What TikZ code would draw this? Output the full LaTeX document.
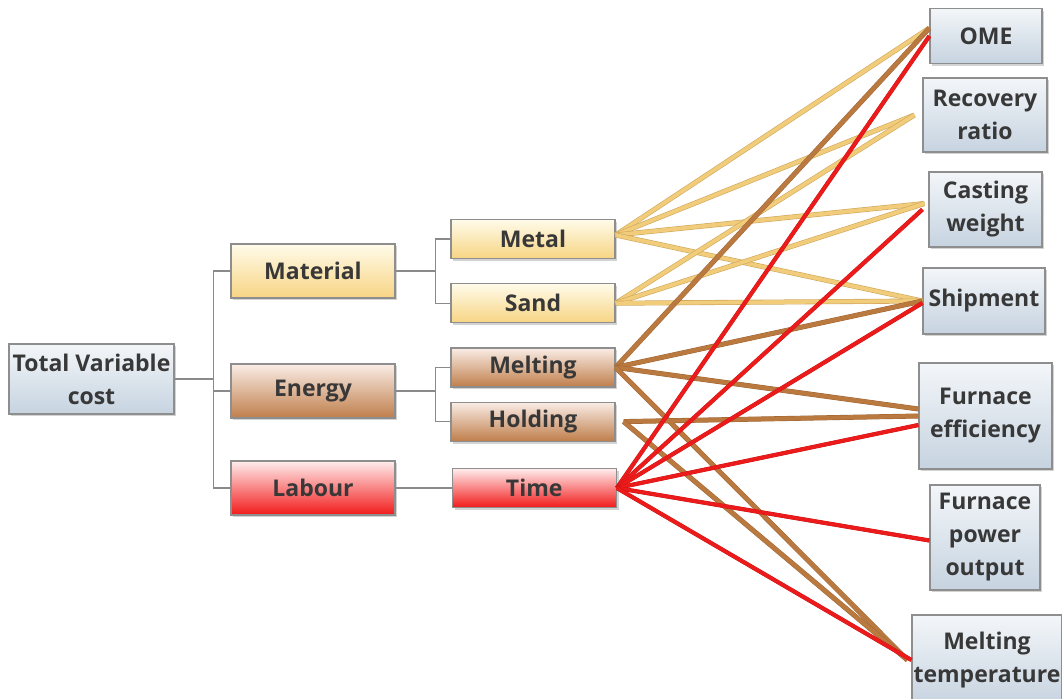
\documentclass[tikz,border=0pt]{standalone}
\usepackage{fontspec}
\setmainfont{Open Sans}
\usepackage{tikz}
\usetikzlibrary{positioning,shadows}

\definecolor{boxline}{HTML}{8E8E8E}
\definecolor{boxtext}{HTML}{383838}
\definecolor{treeline}{HTML}{8A8A8A}
\definecolor{steeltop}{HTML}{F3F6F9}
\definecolor{steelbot}{HTML}{C6D3E0}
\definecolor{yeltop}{HTML}{FFFBEA}
\definecolor{yelbot}{HTML}{F7D483}
\definecolor{brntop}{HTML}{FAEDE6}
\definecolor{brnbot}{HTML}{BF7E4B}
\definecolor{redtop}{HTML}{FFEDED}
\definecolor{redbot}{HTML}{F21A1A}
\definecolor{matlink}{HTML}{F1CC7A}
\definecolor{matedge}{HTML}{CFA85E}
\definecolor{enlink}{HTML}{B9793F}
\definecolor{enedge}{HTML}{9C6233}
\definecolor{lablink}{HTML}{EC1B1B}
\definecolor{labedge}{HTML}{C41212}

\tikzset{
	cost tree/.style={x=0.5pt, y=-0.5pt, node distance=12pt and 28pt},
	bx/.style={draw=boxline, line width=0.6pt, align=center, text=boxtext,
		inner sep=0pt, font=\fontsize{11.5}{16.5}\selectfont\bfseries,
		drop shadow={shadow xshift=1.2pt, shadow yshift=-1.2pt, opacity=0.35}},
	bx steel/.style={bx, top color=steeltop, bottom color=steelbot},
	bx yellow/.style={bx, top color=yeltop, bottom color=yelbot},
	bx brown/.style={bx, top color=brntop, bottom color=brnbot},
	bx red/.style={bx, top color=redtop, bottom color=redbot},
	main/.style={minimum width=82pt, minimum height=27pt},
	sub/.style={minimum width=82pt, minimum height=19.5pt},
	tree/.style={draw=treeline, line width=0.6pt},
	ylink/.style={draw=matlink, line width=1.9pt, preaction={draw=matedge, line width=2.5pt}},
	blink/.style={draw=enlink, line width=2.1pt, preaction={draw=enedge, line width=2.5pt}},
	rlink/.style={draw=lablink, line width=1.8pt, preaction={draw=labedge, line width=2.1pt}}
}

\begin{document}
\begin{tikzpicture}[cost tree]
  \useasboundingbox (0,0) rectangle (1062,698);

  % cost breakdown
  \node[bx steel, minimum width=82.5pt, minimum height=35pt] (tvc) at (91.5,379) {Total Variable\\cost};
  \node[bx yellow, main] (material) at (313,271) {Material};
  \node[bx brown, main] (energy) at (313,391) {Energy};
  \node[bx red, main] (labour) at (313,488) {Labour};
  \node[bx yellow, sub] (metal) at (533,239) {Metal};
  \node[bx yellow, sub, below=of metal] (sand) {Sand};
  \node[bx brown, sub, below=of sand] (melting) {Melting};
  \node[bx brown, sub, below=7pt of melting] (holding) {Holding};
  \node[bx red, sub, right=of labour] (time) {Time};

  \draw[tree] (tvc.east) -- ++(39,0) coordinate (fork);
  \draw[tree] (material.west) -| (fork) |- (labour.west);
  \draw[tree] (fork) |- (energy.west);
  \draw[tree] (material.east) -- ++(40,0) coordinate (matfork);
  \draw[tree] (metal.west) -| (matfork) |- (sand.west);
  \draw[tree] (energy.east) -- ++(40,0) coordinate (enfork);
  \draw[tree] (melting.west) -| (enfork) |- (holding.west);
  \draw[tree] (labour) -- (time);

  % drivers
  \node[bx steel, minimum width=56pt, minimum height=27.5pt] (ome) at (986,36) {OME};
  \node[bx steel, minimum width=62pt, minimum height=37pt] (recovery) at (985,115) {Recovery\\ratio};
  \node[bx steel, minimum width=56.5pt, minimum height=37.5pt] (casting) at (985.5,209.5) {Casting\\weight};
  \node[bx steel, minimum width=61pt, minimum height=33pt] (shipment) at (984,301) {Shipment};
  \node[bx steel, minimum width=66.5pt, minimum height=53pt] (eff) at (985.5,416) {Furnace\\efficiency};
  \node[bx steel, minimum width=55pt, minimum height=52.5pt] (power) at (985,537.5) {Furnace\\power\\output};
  \node[bx steel, minimum width=75pt, minimum height=45pt] (melttemp) at (987,660) {Melting\\temperature};

  % material links
  \draw[ylink] ([yshift=2pt]metal.east) -- (ome.172);
  \draw[ylink] ([yshift=2pt]metal.east) -- ([xshift=-4pt]recovery.west);
  \draw[ylink] ([yshift=2pt]metal.east) -- ([xshift=-2pt,yshift=3pt]casting.west);
  \draw[ylink] ([yshift=2pt]metal.east) -- (shipment.west);
  \draw[ylink] (sand.east) -- ([xshift=-4pt]recovery.west);
  \draw[ylink] (sand.east) -- ([xshift=-2pt,yshift=3pt]casting.west);
  \draw[ylink] (sand.east) -- (shipment.west);

  % energy links
  \draw[blink] (melting.east) -- (ome.172);
  \draw[blink] (melting.east) -- (shipment.west);
  \draw[blink] (melting.east) -- ([yshift=3.5pt]eff.west);
  \draw[blink] (melting.east) -- ([xshift=-2pt]melttemp.west);
  \draw[blink] ([xshift=4pt]holding.east) -- (eff.west);
  \draw[blink] ([xshift=4pt]holding.east) -- ([xshift=-2pt]melttemp.west);

  % labour links
  \draw[rlink] (time.east) -- (ome.west);
  \draw[rlink] (time.east) -- ([xshift=-3pt]casting.west);
  \draw[rlink] (time.east) -- ([yshift=-1pt]shipment.west);
  \draw[rlink] (time.east) -- ([yshift=-4.5pt]eff.west);
  \draw[rlink] (time.east) -- ([yshift=-1.5pt]power.west);
  \draw[rlink] (time.east) -- (melttemp.west);
\end{tikzpicture}
\end{document}
